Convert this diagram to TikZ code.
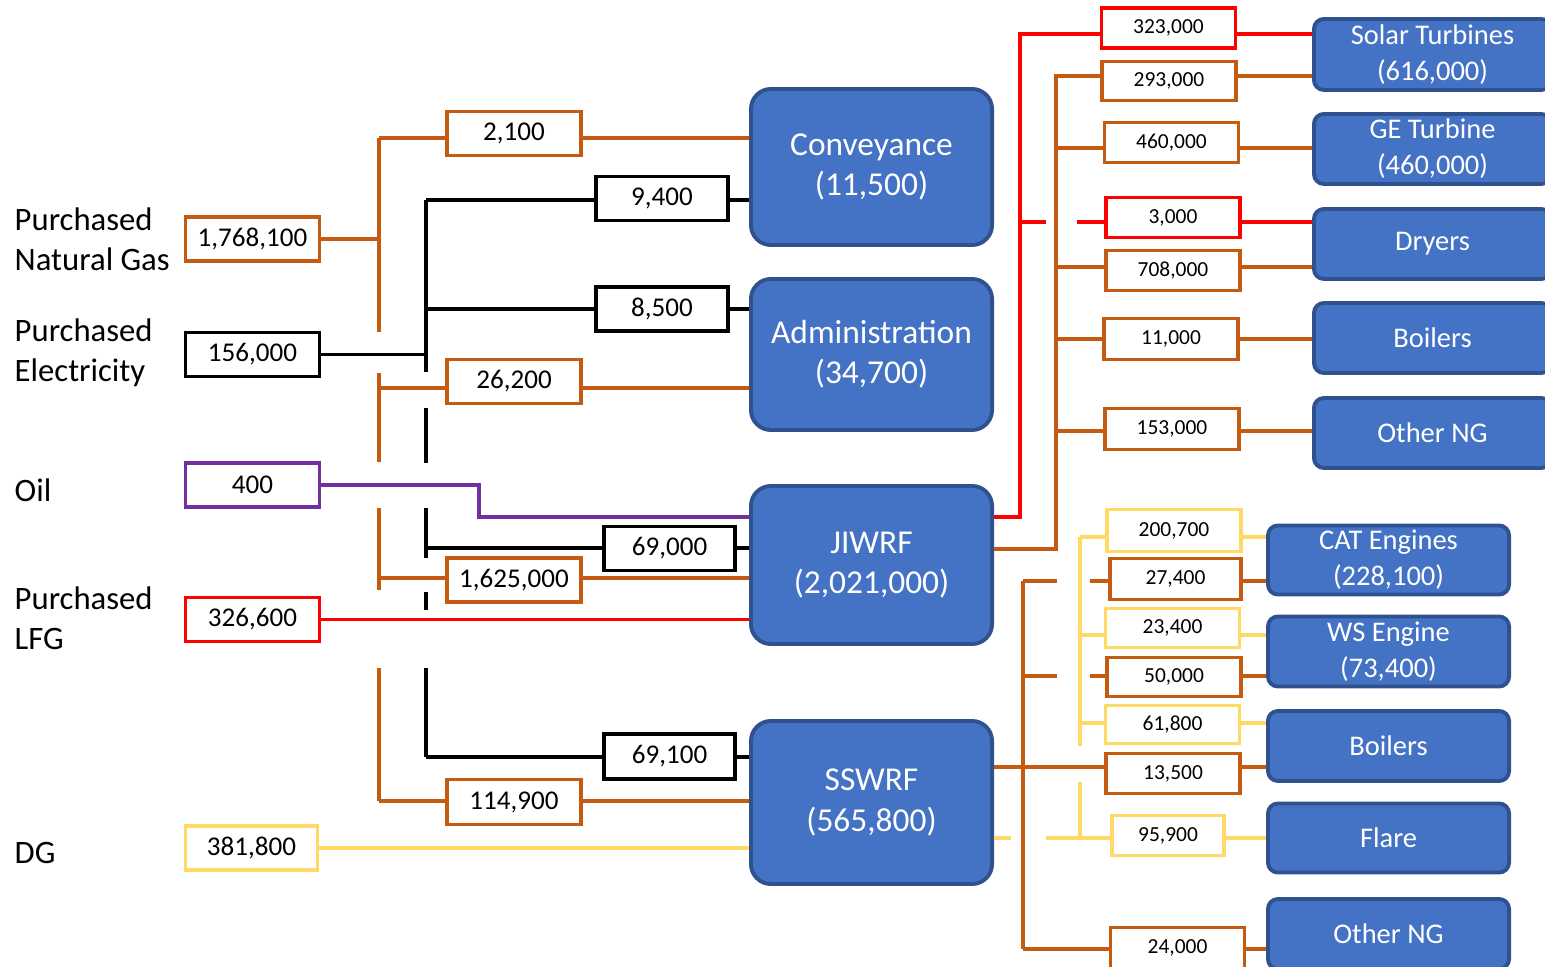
\documentclass[tikz,border=0pt]{standalone}
\usepackage{fontspec}
\setmainfont{Carlito}
\usetikzlibrary{positioning}

\definecolor{orng}{HTML}{C55A11}
\definecolor{redl}{HTML}{FF0000}
\definecolor{purp}{HTML}{7030A0}
\definecolor{yelw}{HTML}{FFD966}
\definecolor{bfill}{HTML}{4472C4}
\definecolor{bdraw}{HTML}{2F528F}

\tikzset{
  flow/.style={line width=1.1pt},
  qty/.style={draw=#1, line width=1.1pt, fill=white, inner sep=0pt, minimum width=1.34cm, minimum height=0.44cm, font=\fontsize{7.7}{9}\selectfont},
  sval/.style={qty=#1, minimum height=0.40cm, font=\fontsize{6.1}{7}\selectfont},
  plant/.style={draw=bdraw, fill=bfill, line width=1.1pt, rounded corners=0.2cm, text=white, align=center, inner sep=0pt, minimum width=2.41cm, font=\fontsize{9.5}{11.4}\selectfont},
  enduse/.style={plant, rounded corners=0.1cm, minimum width=2.37cm, minimum height=0.70cm, font=\fontsize{8.1}{10.2}\selectfont},
  srclabel/.style={align=left, anchor=west, inner sep=0pt, font=\fontsize{9.3}{11.4}\selectfont}
}

\begin{document}
\begin{tikzpicture}[x=0.01cm, y=-0.01cm]
\useasboundingbox (0,0) rectangle (1545,967);
\clip (0,0) rectangle (1545,967);

% sources
\node[srclabel] (ngl) at (14,239) {Purchased\\Natural Gas};
\node[srclabel] (ell) at (14,353) {Purchased\\Electricity};
\node[srclabel] (oill) at (14,490) {Oil};
\node[srclabel] (lfgl) at (14,618) {Purchased\\LFG};
\node[srclabel] (dgl) at (14,853) {DG};

\node[qty=orng] (ngq) at (252.5,239) {1,768,100};
\node[qty=black] (elq) at (252.5,354.5) {156,000};
\node[qty=purp] (oilq) at (252.5,485) {400};
\node[qty=redl] (lfgq) at (252.5,619.5) {326,600};
\node[qty=yelw, minimum width=1.32cm] (dgq) at (251.5,848) {381,800};

% facilities
\node[plant, minimum height=1.56cm] (conv) at (871.5,167) {Conveyance\\(11,500)};
\node[plant, minimum height=1.51cm] (admin) at (871.5,354.5) {Administration\\(34,700)};
\node[plant, minimum height=1.58cm] (jiwrf) at (871.5,565) {JIWRF\\(2,021,000)};
\node[plant, minimum height=1.63cm] (sswrf) at (871.5,802.5) {SSWRF\\(565,800)};

\node[qty=orng, minimum width=1.34cm] (c2100) at (514,133.5) {2,100};
\node[qty=black, minimum width=1.32cm] (c9400) at (662,198.5) {9,400};
\node[qty=black, minimum width=1.32cm] (a8500) at (662,309) {8,500};
\node[qty=orng] (a26200) at (514,381.5) {26,200};
\node[qty=black, minimum width=1.31cm] (j69000) at (669.5,548.5) {69,000};
\node[qty=orng] (j1625) at (514,580) {1,625,000};
\node[qty=black, minimum width=1.31cm, minimum height=0.45cm] (s69100) at (669.5,756.5) {69,100};
\node[qty=orng, minimum height=0.45cm] (s114900) at (514,802) {114,900};

% JIWRF users
\node[sval=redl] (t323) at (1168.5,28) {323,000};
\node[sval=orng, minimum height=0.39cm] (t293) at (1169,81) {293,000};
\node[sval=orng] (t460) at (1171.5,142.5) {460,000};
\node[sval=redl] (t3000) at (1173,217.5) {3,000};
\node[sval=orng] (t708) at (1173,270.5) {708,000};
\node[sval=orng, minimum height=0.41cm] (t11) at (1171,339) {11,000};
\node[sval=orng, minimum height=0.41cm] (t153) at (1172,429) {153,000};

\node[enduse, minimum height=0.71cm] (solar) at (1432.5,54.5) {Solar Turbines\\(616,000)};
\node[enduse] (ge) at (1432.5,149) {GE Turbine\\(460,000)};
\node[enduse] (dry) at (1432.5,244) {Dryers};
\node[enduse] (boilj) at (1432.5,338) {Boilers};
\node[enduse] (othj) at (1432.5,433) {Other NG};

% SSWRF users
\node[sval=yelw, minimum height=0.42cm] (s2007) at (1174,530.5) {200,700};
\node[sval=orng, minimum width=1.31cm, minimum height=0.41cm] (s274) at (1175.5,579) {27,400};
\node[sval=yelw, minimum height=0.39cm] (s234) at (1172.5,628) {23,400};
\node[sval=orng, minimum height=0.39cm] (s50) at (1174,677) {50,000};
\node[sval=yelw, minimum height=0.38cm] (s618) at (1172.5,724.5) {61,800};
\node[sval=orng] (s135) at (1173,773.5) {13,500};
\node[sval=yelw, minimum width=1.12cm] (s959) at (1168,835.5) {95,900};
\node[sval=orng, minimum height=0.41cm] (s24) at (1177.5,948) {24,000};

\node[enduse, minimum width=2.41cm, minimum height=0.69cm] (cat) at (1388.5,560) {CAT Engines\\(228,100)};
\node[enduse, minimum width=2.41cm] (ws) at (1388.5,651.5) {WS Engine\\(73,400)};
\node[enduse, minimum width=2.41cm] (boils) at (1388.5,746) {Boilers};
\node[enduse, minimum width=2.41cm, minimum height=0.69cm] (flare) at (1388.5,838) {Flare};
\node[enduse, minimum width=2.41cm] (oths) at (1388.5,934) {Other NG};

% left buses
\coordinate (n1) at (379,138);
\coordinate (n2) at (379,388);
\coordinate (n3) at (379,578);
\coordinate (n4) at (379,801);
\coordinate (e1) at (426,200);
\coordinate (e2) at (426,309);
\coordinate (e3) at (426,548);
\coordinate (e4) at (426,757);
\coordinate (oilbend) at (479,517);

\draw[flow,orng] (n1) -- (379,332) (379,373) -- (379,462) (379,508) -- (379,590) (379,668) -- (n4);
\draw[flow] (e1) -- (426,372) (426,408) -- (426,463) (426,508) -- (426,558) (426,592) -- (426,610) (426,668) -- (e4);

\draw[flow,orng] (ngq.east) -- (ngq.east -| n1);
\draw[flow] (elq.east) -- (elq.east -| e1);
\draw[flow,purp] (oilq.east) -| (oilbend) -- (jiwrf.west |- oilbend);
\draw[flow,redl] (lfgq.east) -- (lfgq.east -| jiwrf.west);
\draw[flow,yelw] (dgq.east) -- (dgq.east -| sswrf.west);

\draw[flow,orng] (n1) -- (c2100.west |- n1) (c2100.east |- n1) -- (conv.west |- n1);
\draw[flow,orng] (n2) -- (a26200.west |- n2) (a26200.east |- n2) -- (admin.west |- n2);
\draw[flow,orng] (n3) -- (j1625.west |- n3) (j1625.east |- n3) -- (jiwrf.west |- n3);
\draw[flow,orng] (n4) -- (s114900.west |- n4) (s114900.east |- n4) -- (sswrf.west |- n4);
\draw[flow] (e1) -- (c9400.west |- e1) (c9400.east |- e1) -- (conv.west |- e1);
\draw[flow] (e2) -- (a8500.west |- e2) (a8500.east |- e2) -- (admin.west |- e2);
\draw[flow] (e3) -- (j69000.west |- e3) (j69000.east |- e3) -- (jiwrf.west |- e3);
\draw[flow] (e4) -- (s69100.west |- e4) (s69100.east |- e4) -- (sswrf.west |- e4);

% JIWRF buses
\coordinate (jr) at (1020,34);
\coordinate (jr2) at (1020,222);
\coordinate (jo) at (1056,76);
\coordinate (jo0) at (1056,549);
\coordinate (jo1) at (1056,148);
\coordinate (jo2) at (1056,267);
\coordinate (jo3) at (1056,339);
\coordinate (jo4) at (1056,431);

\draw[flow,redl] (jiwrf.east |- oilbend) -| (jr) -- (t323.west |- jr) (t323.east |- jr) -- (solar.west |- jr);
\draw[flow,redl] (jr2) -- +(26,0) ([xshift=0.57cm]jr2) -- (t3000.west |- jr2) (t3000.east |- jr2) -- (dry.west |- jr2);
\draw[flow,orng] (jiwrf.east |- jo0) -- (jo0) -- (jo) -- (t293.west |- jo) (t293.east |- jo) -- (solar.west |- jo);
\draw[flow,orng] (jo1) -- (t460.west |- jo1) (t460.east |- jo1) -- (ge.west |- jo1);
\draw[flow,orng] (jo2) -- (t708.west |- jo2) (t708.east |- jo2) -- (dry.west |- jo2);
\draw[flow,orng] (jo3) -- (t11.west |- jo3) (t11.east |- jo3) -- (boilj.west |- jo3);
\draw[flow,orng] (jo4) -- (t153.west |- jo4) (t153.east |- jo4) -- (othj.west |- jo4);

% SSWRF buses
\coordinate (so1) at (1023,581);
\coordinate (so2) at (1023,676);
\coordinate (so3) at (1023,767);
\coordinate (so4) at (1023,949);
\coordinate (sy1) at (1080,537);
\coordinate (sy2) at (1080,635);
\coordinate (sy3) at (1080,723);
\coordinate (sy4) at (1080,838);
\coordinate (sy0) at (1046,838);

\draw[flow,orng] (so1) -- (so4);
\draw[flow,yelw] (sy1) -- (1080,746) (1080,782) -- (sy4);

\draw[flow,orng] (sswrf.east |- so3) -- (s135.west |- so3) (s135.east |- so3) -- (boils.west |- so3);
\draw[flow,orng] (so1) -- +(34,0) ([xshift=0.67cm]so1) -- (s274.west |- so1) (s274.east |- so1) -- (cat.west |- so1);
\draw[flow,orng] (so2) -- +(34,0) ([xshift=0.67cm]so2) -- (s50.west |- so2) (s50.east |- so2) -- (ws.west |- so2);
\draw[flow,orng] (so4) -- (s24.west |- so4) (s24.east |- so4) -- (oths.west |- so4);

\draw[flow,yelw] (sswrf.east |- sy4) -- +(17,0) (sy0) -- (s959.west |- sy4) (s959.east |- sy4) -- (flare.west |- sy4);
\draw[flow,yelw] (sy1) -- (s2007.west |- sy1) (s2007.east |- sy1) -- (cat.west |- sy1);
\draw[flow,yelw] (sy2) -- (s234.west |- sy2) (s234.east |- sy2) -- (ws.west |- sy2);
\draw[flow,yelw] (sy3) -- (s618.west |- sy3) (s618.east |- sy3) -- (boils.west |- sy3);
\end{tikzpicture}
\end{document}
